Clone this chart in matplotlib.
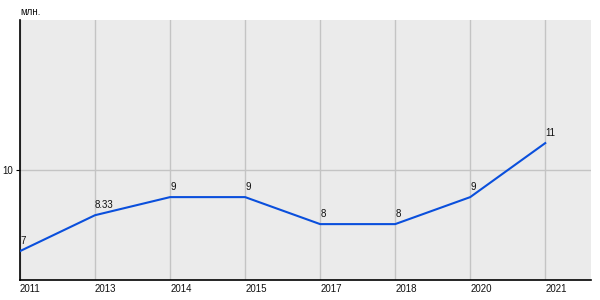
import matplotlib
matplotlib.use("Agg")
import matplotlib.pyplot as plt

plt.rcParams["font.family"] = ["Liberation Sans", "DejaVu Sans"]

years = ["2011", "2013", "2014", "2015", "2017", "2018", "2020", "2021"]
values = [7, 8.33, 9, 9, 8, 8, 9, 11]
value_labels = ["7", "8.33", "9", "9", "8", "8", "9", "11"]

fig = plt.figure(figsize=(6, 3), dpi=100)
# plot area in pixels: left 20, right 591, top 20, bottom 280
ax = fig.add_axes([20 / 600, 20 / 300, 571 / 600, 260 / 300])
ax.set_facecolor("#ebebeb")

x = list(range(len(years)))
ax.plot(x, values, color="#0a4fdc", linewidth=1.5, zorder=3)

for xi, v, lab in zip(x, values, value_labels):
    ax.annotate(lab, (xi, v), xytext=(0, 4), textcoords="offset points",
                ha="left", va="bottom", fontsize=7, color="#111111")

ax.set_xlim(0, 7.61)
ax.set_ylim(5.93, 15.56)

ax.set_xticks(x)
ax.set_xticklabels(years, ha="left", fontsize=7, color="#111111")
ax.set_yticks([10])
ax.set_yticklabels(["10"], fontsize=7, color="#111111")
ax.tick_params(axis="x", length=0, pad=3)
ax.tick_params(axis="y", length=3, pad=2, color="#000000")

ax.grid(True, color="#c4c4c4", linewidth=1)
ax.set_axisbelow(True)

for s in ["top", "right"]:
    ax.spines[s].set_visible(False)
for s in ["left", "bottom"]:
    ax.spines[s].set_color("black")
    ax.spines[s].set_linewidth(1.2)

fig.text(20 / 600, 1 - 12 / 300, "млн.", fontsize=7, ha="left", va="center",
         color="#111111")

plt.savefig("out.png", dpi=100)
